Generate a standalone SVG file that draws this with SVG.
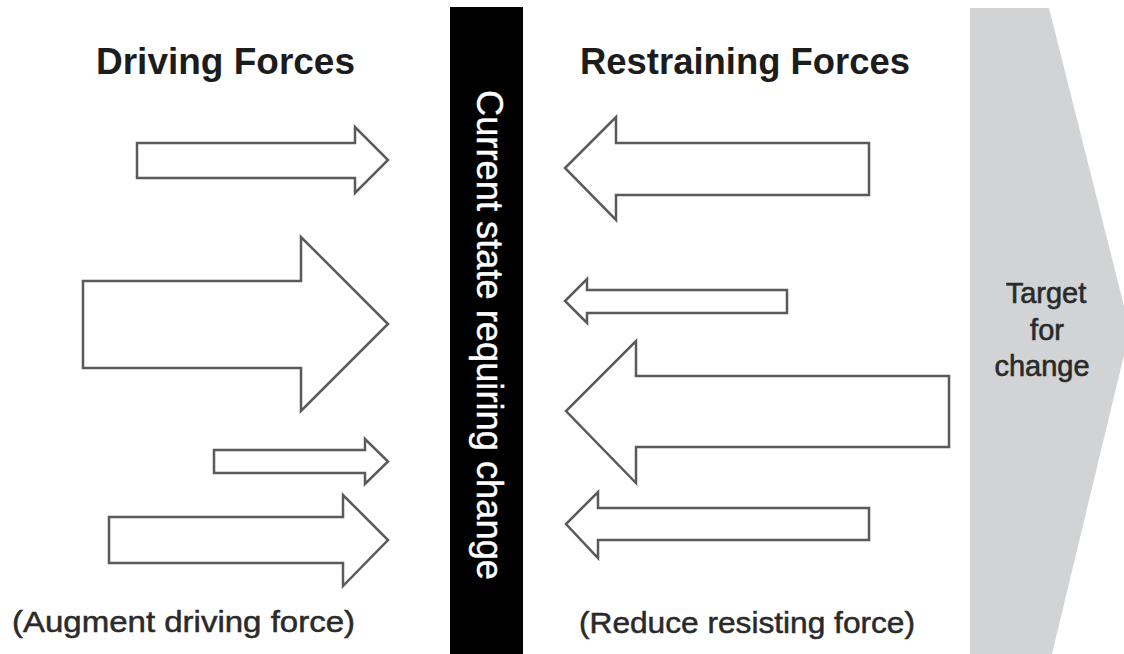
<svg xmlns="http://www.w3.org/2000/svg" width="1124" height="654" viewBox="0 0 1124 654">
<style>
.arr{fill:#ffffff;stroke:#5a5a5a;stroke-width:2.5;stroke-linejoin:miter}
.head{font-family:"Liberation Sans",Arial,sans-serif;font-weight:bold;font-size:36px;fill:#1c1c1c}
.note{font-family:"Liberation Sans",Arial,sans-serif;font-size:29px;fill:#2a2a2a;stroke:#2a2a2a;stroke-width:0.5}
.tgt{font-family:"Liberation Sans",Arial,sans-serif;font-size:29px;fill:#2a2a2a;stroke:#2a2a2a;stroke-width:0.6;text-anchor:middle}
.bar{font-family:"Liberation Sans",Arial,sans-serif;font-size:37px;fill:#ffffff;stroke:#ffffff;stroke-width:0.4}
</style>
<rect width="1124" height="654" fill="#ffffff"/>
<g id="target">
<polygon points="970,8 1049,8 1130,330 1052,654 970,654" fill="#d2d3d5"/>
<text class="tgt" x="1046" y="303">Target</text>
<text class="tgt" x="1047" y="340">for</text>
<text class="tgt" x="1042" y="376">change</text>
</g>
<g id="current-state">
<rect x="450" y="7" width="73" height="647" fill="#000000"/>
<text class="bar" transform="translate(477,90) rotate(90)" x="0" y="0" textLength="490" lengthAdjust="spacingAndGlyphs">Current state requiring change</text>
</g>
<g id="titles">
<text class="head" x="96" y="74" textLength="259" lengthAdjust="spacingAndGlyphs">Driving Forces</text>
<text class="head" x="580" y="74" textLength="330" lengthAdjust="spacingAndGlyphs">Restraining Forces</text>
<text class="note" x="12" y="632" textLength="343" lengthAdjust="spacingAndGlyphs">(Augment driving force)</text>
<text class="note" x="579" y="633" textLength="336" lengthAdjust="spacingAndGlyphs">(Reduce resisting force)</text>
</g>
<g id="connectors">
<g id="driving-1"><polygon class="arr" points="137,143 355,143 355,127 388,160 355,193 355,178 137,178"/></g>
<g id="driving-2"><polygon class="arr" points="83,281 301,281 301,237 388,324 301,411 301,368 83,368"/></g>
<g id="driving-3"><polygon class="arr" points="214,450 365,450 365,439 388,461.5 365,484 365,473 214,473"/></g>
<g id="driving-4"><polygon class="arr" points="109,517 343,517 343,495 388,540 343,586 343,563 109,563"/></g>
<g id="restraining-1"><polygon class="arr" points="869,143 616,143 616,117 565,168 616,220 616,195 869,195"/></g>
<g id="restraining-2"><polygon class="arr" points="787,290 587,290 587,279 565,301 587,323 587,313 787,313"/></g>
<g id="restraining-3"><polygon class="arr" points="949,376 636,376 636,341 566,411 636,483 636,447 949,447"/></g>
<g id="restraining-4"><polygon class="arr" points="869,508 598,508 598,492 566,524 598,558 598,540 869,540"/></g>
</g>
</svg>
